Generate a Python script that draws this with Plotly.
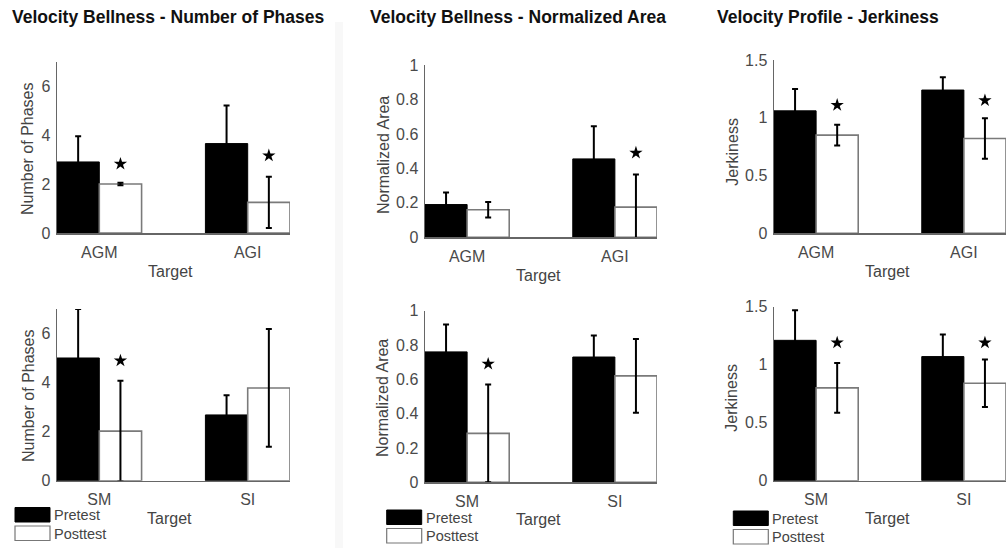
import plotly.graph_objects as go

# ---------------- data ----------------
top_targets = ["AGM", "AGI"]
bottom_targets = ["SM", "SI"]
series_names = ["Pretest", "Posttest"]

# Velocity Bellness - Number of Phases
phases_top_pre = [2.9, 3.65]
phases_top_pre_err = [1.05, 1.55]
phases_top_post = [2.0, 1.25]
phases_top_post_err = [0.05, 1.05]
phases_top_star = [2.82, 3.16]

phases_bot_pre = [5.0, 2.68]
phases_bot_pre_err = [2.0, 0.8]
phases_bot_post = [2.02, 3.78]
phases_bot_post_err = [2.05, 2.4]
phases_bot_star = [4.89, None]

# Velocity Bellness - Normalized Area
area_top_pre = [0.19, 0.455]
area_top_pre_err = [0.07, 0.19]
area_top_post = [0.16, 0.175]
area_top_post_err = [0.045, 0.19]
area_top_star = [None, 0.49]

area_bot_pre = [0.76, 0.73]
area_bot_pre_err = [0.16, 0.125]
area_bot_post = [0.285, 0.62]
area_bot_post_err = [0.285, 0.215]
area_bot_star = [0.69, None]

# Velocity Profile - Jerkiness
jerk_top_pre = [1.06, 1.24]
jerk_top_pre_err = [0.19, 0.11]
jerk_top_post = [0.85, 0.82]
jerk_top_post_err = [0.09, 0.175]
jerk_top_star = [1.11, 1.15]

jerk_bot_pre = [1.21, 1.07]
jerk_bot_pre_err = [0.26, 0.19]
jerk_bot_post = [0.80, 0.84]
jerk_bot_post_err = [0.215, 0.205]
jerk_bot_star = [1.19, 1.19]

titles = ["Velocity Bellness - Number of Phases",
          "Velocity Bellness - Normalized Area",
          "Velocity Profile - Jerkiness"]
y_titles = ["Number of Phases", "Normalized Area", "Jerkiness"]
x_title = "Target"

phase_ticks = [0, 2, 4, 6]
phase_ticktext = ["0", "2", "4", "6"]
area_ticks = [0, 0.2, 0.4, 0.6, 0.8, 1.0]
area_ticktext = ["0", "0.2", "0.4", "0.6", "0.8", "1"]
jerk_ticks = [0, 0.5, 1.0, 1.5]
jerk_ticktext = ["0", "0.5", "1", "1.5"]

# ---------------- layout helpers ----------------
W, H = 1006, 548
def px(v):
    return v / W
def py(v):
    return 1 - v / H

BAR_W = 0.285          # width of one bar in x units
XR = [1 - BAR_W, 2 + BAR_W]

panels = [
    dict(pre=phases_top_pre, pre_err=phases_top_pre_err, post=phases_top_post, post_err=phases_top_post_err,
         star=phases_top_star, cats=top_targets, yr=[0, 7], tv=phase_ticks, tt=phase_ticktext,
         xd=(57, 290), yd=(61.5, 233), yt=(28, 149, 0), xt=(170, 271)),
    dict(pre=area_top_pre, pre_err=area_top_pre_err, post=area_top_post, post_err=area_top_post_err,
         star=area_top_star, cats=top_targets, yr=[0, 1], tv=area_ticks, tt=area_ticktext,
         xd=(425, 657), yd=(65, 237.3), yt=(383, 155, 1), xt=(538, 275)),
    dict(pre=jerk_top_pre, pre_err=jerk_top_pre_err, post=jerk_top_post, post_err=jerk_top_post_err,
         star=jerk_top_star, cats=top_targets, yr=[0, 1.5], tv=jerk_ticks, tt=jerk_ticktext,
         xd=(774, 1006), yd=(60, 233.3), yt=(731.7, 152, 2), xt=(887, 271)),
    dict(pre=phases_bot_pre, pre_err=phases_bot_pre_err, post=phases_bot_post, post_err=phases_bot_post_err,
         star=phases_bot_star, cats=bottom_targets, yr=[0, 7], tv=phase_ticks, tt=phase_ticktext,
         xd=(57, 290), yd=(308.9, 480.7), yt=(28, 396, 0), xt=(169, 518)),
    dict(pre=area_bot_pre, pre_err=area_bot_pre_err, post=area_bot_post, post_err=area_bot_post_err,
         star=area_bot_star, cats=bottom_targets, yr=[0, 1], tv=area_ticks, tt=area_ticktext,
         xd=(425, 657), yd=(310.7, 482.3), yt=(383, 398, 1), xt=(538, 519)),
    dict(pre=jerk_bot_pre, pre_err=jerk_bot_pre_err, post=jerk_bot_post, post_err=jerk_bot_post_err,
         star=jerk_bot_star, cats=bottom_targets, yr=[0, 1.5], tv=jerk_ticks, tt=jerk_ticktext,
         xd=(774, 1006), yd=(306.7, 480.7), yt=(731.7, 398, 2), xt=(887, 518)),
]

FONT = "Liberation Sans, Arial, sans-serif"
AXIS_COLOR = "#666666"
TICK_COLOR = "#4a4a4a"

fig = go.Figure()
layout = dict(
    width=W, height=H, margin=dict(l=0, r=0, t=0, b=0, pad=0, autoexpand=False),
    paper_bgcolor="white", plot_bgcolor="white",
    barmode="group", bargap=1 - 2 * BAR_W, bargroupgap=0,
    showlegend=False, font=dict(family=FONT, color=TICK_COLOR),
)
annotations = []
shapes = []

for i, p in enumerate(panels, start=1):
    xa = "x" if i == 1 else f"x{i}"
    ya = "y" if i == 1 else f"y{i}"
    xpos = [1, 2]
    fig.add_trace(go.Bar(
        x=xpos, y=p["pre"], name=series_names[0], xaxis=xa, yaxis=ya, offsetgroup="pre",
        marker=dict(color="black", line=dict(color="black", width=1)),
        error_y=dict(type="data", array=p["pre_err"], color="black", thickness=2, width=3)))
    fig.add_trace(go.Bar(
        x=xpos, y=p["post"], name=series_names[1], xaxis=xa, yaxis=ya, offsetgroup="post",
        marker=dict(color="white", line=dict(color="#7a7a7a", width=1.6)),
        error_y=dict(type="data", array=p["post_err"], color="black", thickness=2, width=3)))
    sx = [xpos[k] + BAR_W / 2 for k, s in enumerate(p["star"]) if s is not None]
    sy = [s for s in p["star"] if s is not None]
    fig.add_trace(go.Scatter(
        x=sx, y=sy, mode="markers", xaxis=xa, yaxis=ya, cliponaxis=False, hoverinfo="skip",
        marker=dict(symbol="star", size=10, color="black", line=dict(width=0))))

    key_x = "xaxis" if i == 1 else f"xaxis{i}"
    key_y = "yaxis" if i == 1 else f"yaxis{i}"
    layout[key_x] = dict(
        domain=[px(p["xd"][0]), px(p["xd"][1])], anchor=ya, range=XR, automargin=False,
        tickvals=xpos, ticktext=p["cats"], showline=True, linecolor=AXIS_COLOR, linewidth=1.5,
        ticks="outside", ticklen=4, tickcolor="rgba(0,0,0,0)",
        tickfont=dict(size=16, color=TICK_COLOR, family=FONT),
        showgrid=False, zeroline=False, fixedrange=True)
    layout[key_y] = dict(
        domain=[py(p["yd"][1]), py(p["yd"][0])], anchor=xa, range=p["yr"], automargin=False,
        tickvals=p["tv"], ticktext=p["tt"], showline=True, linecolor=AXIS_COLOR, linewidth=1.5,
        ticks="outside", ticklen=2, tickcolor="rgba(0,0,0,0)",
        tickfont=dict(size=16, color=TICK_COLOR, family=FONT),
        showgrid=False, zeroline=False, fixedrange=True)

    annotations.append(dict(
        text=y_titles[p["yt"][2]], x=px(p["yt"][0]), y=py(p["yt"][1]), xref="paper", yref="paper",
        textangle=-90, showarrow=False, xanchor="center", yanchor="middle",
        font=dict(size=16, color="#444444", family=FONT)))
    annotations.append(dict(
        text=x_title, x=px(p["xt"][0]), y=py(p["xt"][1]), xref="paper", yref="paper",
        showarrow=False, xanchor="center", yanchor="middle",
        font=dict(size=16, color="#444444", family=FONT)))

for t, (tx, ty) in zip(titles, [(10, 16.5), (368, 16.5), (715, 16.5)]):
    annotations.append(dict(
        text="<b>" + t + "</b>", x=px(tx), y=py(ty), xref="paper", yref="paper",
        showarrow=False, xanchor="left", yanchor="middle",
        font=dict(size=17.5, color="#111111", family=FONT)))

for lx, ly in [(15, 507.5), (386.7, 510), (733.3, 511)]:
    shapes.append(dict(type="rect", xref="paper", yref="paper",
                       x0=px(lx), x1=px(lx + 35), y0=py(ly + 14.5), y1=py(ly),
                       fillcolor="black", line=dict(color="black", width=1)))
    shapes.append(dict(type="rect", xref="paper", yref="paper",
                       x0=px(lx), x1=px(lx + 35), y0=py(ly + 33), y1=py(ly + 18.5),
                       fillcolor="white", line=dict(color="#777777", width=1.2)))
    for k, name in enumerate(series_names):
        annotations.append(dict(
            text=name, x=px(lx + 37), y=py(ly + 7.5 + 18.5 * k), xref="paper", yref="paper",
            showarrow=False, xanchor="left", yanchor="middle",
            font=dict(size=14.5, color="#444444", family=FONT)))

shapes.append(dict(type="rect", xref="paper", yref="paper", layer="below",
                   x0=px(335), x1=px(343), y0=0, y1=py(22),
                   fillcolor="#f8f8f8", line=dict(width=0)))

layout["annotations"] = annotations
layout["shapes"] = shapes
fig.update_layout(**layout)
fig.write_html("out.html",
               config={"displayModeBar": False, "staticPlot": True},
               post_script="document.body.style.margin='0px';document.body.style.overflow='hidden';")
